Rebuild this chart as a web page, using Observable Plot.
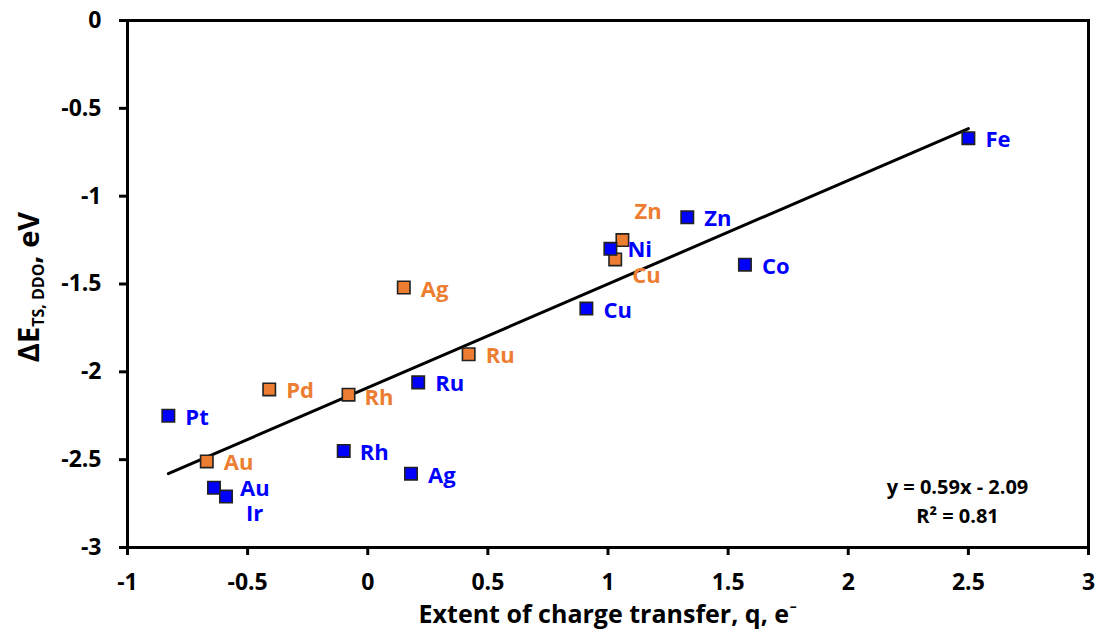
<!DOCTYPE html>
<html>
<head>
<meta charset="utf-8">
<script src="https://cdn.jsdelivr.net/npm/d3@7"></script>
<script src="https://cdn.jsdelivr.net/npm/@observablehq/plot@0.6"></script>
<style>
  html, body { margin: 0; padding: 0; background: #fff; }
  #chart svg { display: block; }
</style>
</head>
<body>
<div id="chart"></div>
<script>
// ---- data ----
const blueNames = ["Fe", "Zn", "Ni", "Co", "Cu", "Ru", "Rh", "Ag", "Pt", "Au", "Ir"];
const blueQ     = [2.50, 1.33, 1.01, 1.57, 0.91, 0.21, -0.10, 0.18, -0.83, -0.64, -0.59];
const blueE     = [-0.67, -1.12, -1.30, -1.39, -1.64, -2.06, -2.45, -2.58, -2.25, -2.66, -2.71];

const orangeNames = ["Zn", "Cu", "Ag", "Ru", "Rh", "Pd", "Au"];
const orangeQ     = [1.06, 1.03, 0.15, 0.42, -0.08, -0.41, -0.67];
const orangeE     = [-1.25, -1.36, -1.52, -1.90, -2.13, -2.10, -2.51];

const trendSlope = 0.59;
const trendIntercept = -2.09;
const trendLines = ["y = 0.59x - 2.09", "R² = 0.81"];

const xTicks = [-1, -0.5, 0, 0.5, 1, 1.5, 2, 2.5, 3];
const yTicks = [0, -0.5, -1, -1.5, -2, -2.5, -3];
const xTitle = "Extent of charge transfer, q, e⁻";

// ---- build tables ----
const FONT = "'Open Sans', Lato, sans-serif";
const BLUE = "#0000FF", ORANGE = "#ED7D31";
const blue = blueNames.map((n, i) => ({name: n, q: blueQ[i], e: blueE[i], series: "blue"}));
const orange = orangeNames.map((n, i) => ({name: n, q: orangeQ[i], e: orangeE[i], series: "orange"}));
const all = [...orange, ...blue];
const qExt = d3.extent(all, d => d.q);
const trend = qExt.map(q => ({q, e: trendSlope * q + trendIntercept}));

// label placement (pixels) relative to each square
const defaultNudge = [17, 2];
const nudges = {
  "blue:Au": [26, 1], "blue:Ir": [20, 17], "blue:Rh": [16, 2], "blue:Ni": [17, 1],
  "orange:Zn": [12, -28], "orange:Cu": [17, 17], "orange:Rh": [16, 3]
};
const labelMarks = all.map(d => {
  const [dx, dy] = nudges[d.series + ":" + d.name] || defaultNudge;
  return Plot.text([d], {x: "q", y: "e", text: "name", dx, dy, textAnchor: "start",
    fill: d.series === "blue" ? BLUE : ORANGE, fontSize: 22, fontWeight: "bold"});
});

const fmt = d => String(d);

const chart = Plot.plot({
  width: 1099,
  height: 642,
  marginLeft: 127,
  marginRight: 11,
  marginTop: 20,
  marginBottom: 95,
  style: {fontFamily: FONT, fontWeight: "bold", color: "#000", background: "#fff"},
  x: {domain: [-1, 3]},
  y: {domain: [-3, 0]},
  marks: [
    Plot.line(trend, {x: "q", y: "e", stroke: "#000", strokeWidth: 3}),
    Plot.dot(orange, {x: "q", y: "e", symbol: "square", r: 7, fill: ORANGE, stroke: "#222", strokeWidth: 1.6}),
    Plot.dot(blue, {x: "q", y: "e", symbol: "square", r: 7, fill: BLUE, stroke: "#222", strokeWidth: 1.6}),
    ...labelMarks,
    Plot.text([trendLines[0]], {frameAnchor: "bottom-right", dx: -131, dy: -54, textAnchor: "middle", fontSize: 20, fontWeight: "bold", fill: "#000"}),
    Plot.text([trendLines[1]], {frameAnchor: "bottom-right", dx: -131, dy: -25, textAnchor: "middle", fontSize: 20, fontWeight: "bold", fill: "#000"}),
    Plot.axisX({ticks: xTicks, tickFormat: fmt, tickSize: 8, tickPadding: 18, strokeWidth: 3, fontSize: 23, fontWeight: "bold", label: null}),
    Plot.axisY({ticks: yTicks, tickFormat: fmt, tickSize: 8, tickPadding: 18, strokeWidth: 3, fontSize: 23, fontWeight: "bold", label: null}),
    Plot.text([xTitle], {frameAnchor: "bottom", dy: 75, fontSize: 25, fontWeight: "bold", fill: "#000"}),
    Plot.frame({stroke: "#000", strokeWidth: 3})
  ]
});

document.getElementById("chart").appendChild(chart);

// y-axis title with subscript (real text)
const svg = d3.select(chart.tagName.toLowerCase() === "svg" ? chart : chart.querySelector("svg"));
const yt = svg.append("text")
  .attr("transform", "translate(39,287) rotate(-90)")
  .attr("text-anchor", "middle")
  .attr("font-family", FONT)
  .attr("font-weight", "bold")
  .attr("font-size", 29)
  .attr("fill", "#000");
yt.append("tspan").text("ΔE");
yt.append("tspan").attr("font-size", 16).attr("dy", 5).text("TS, DDO");
yt.append("tspan").attr("dy", -5).text(", eV");
</script>
</body>
</html>
